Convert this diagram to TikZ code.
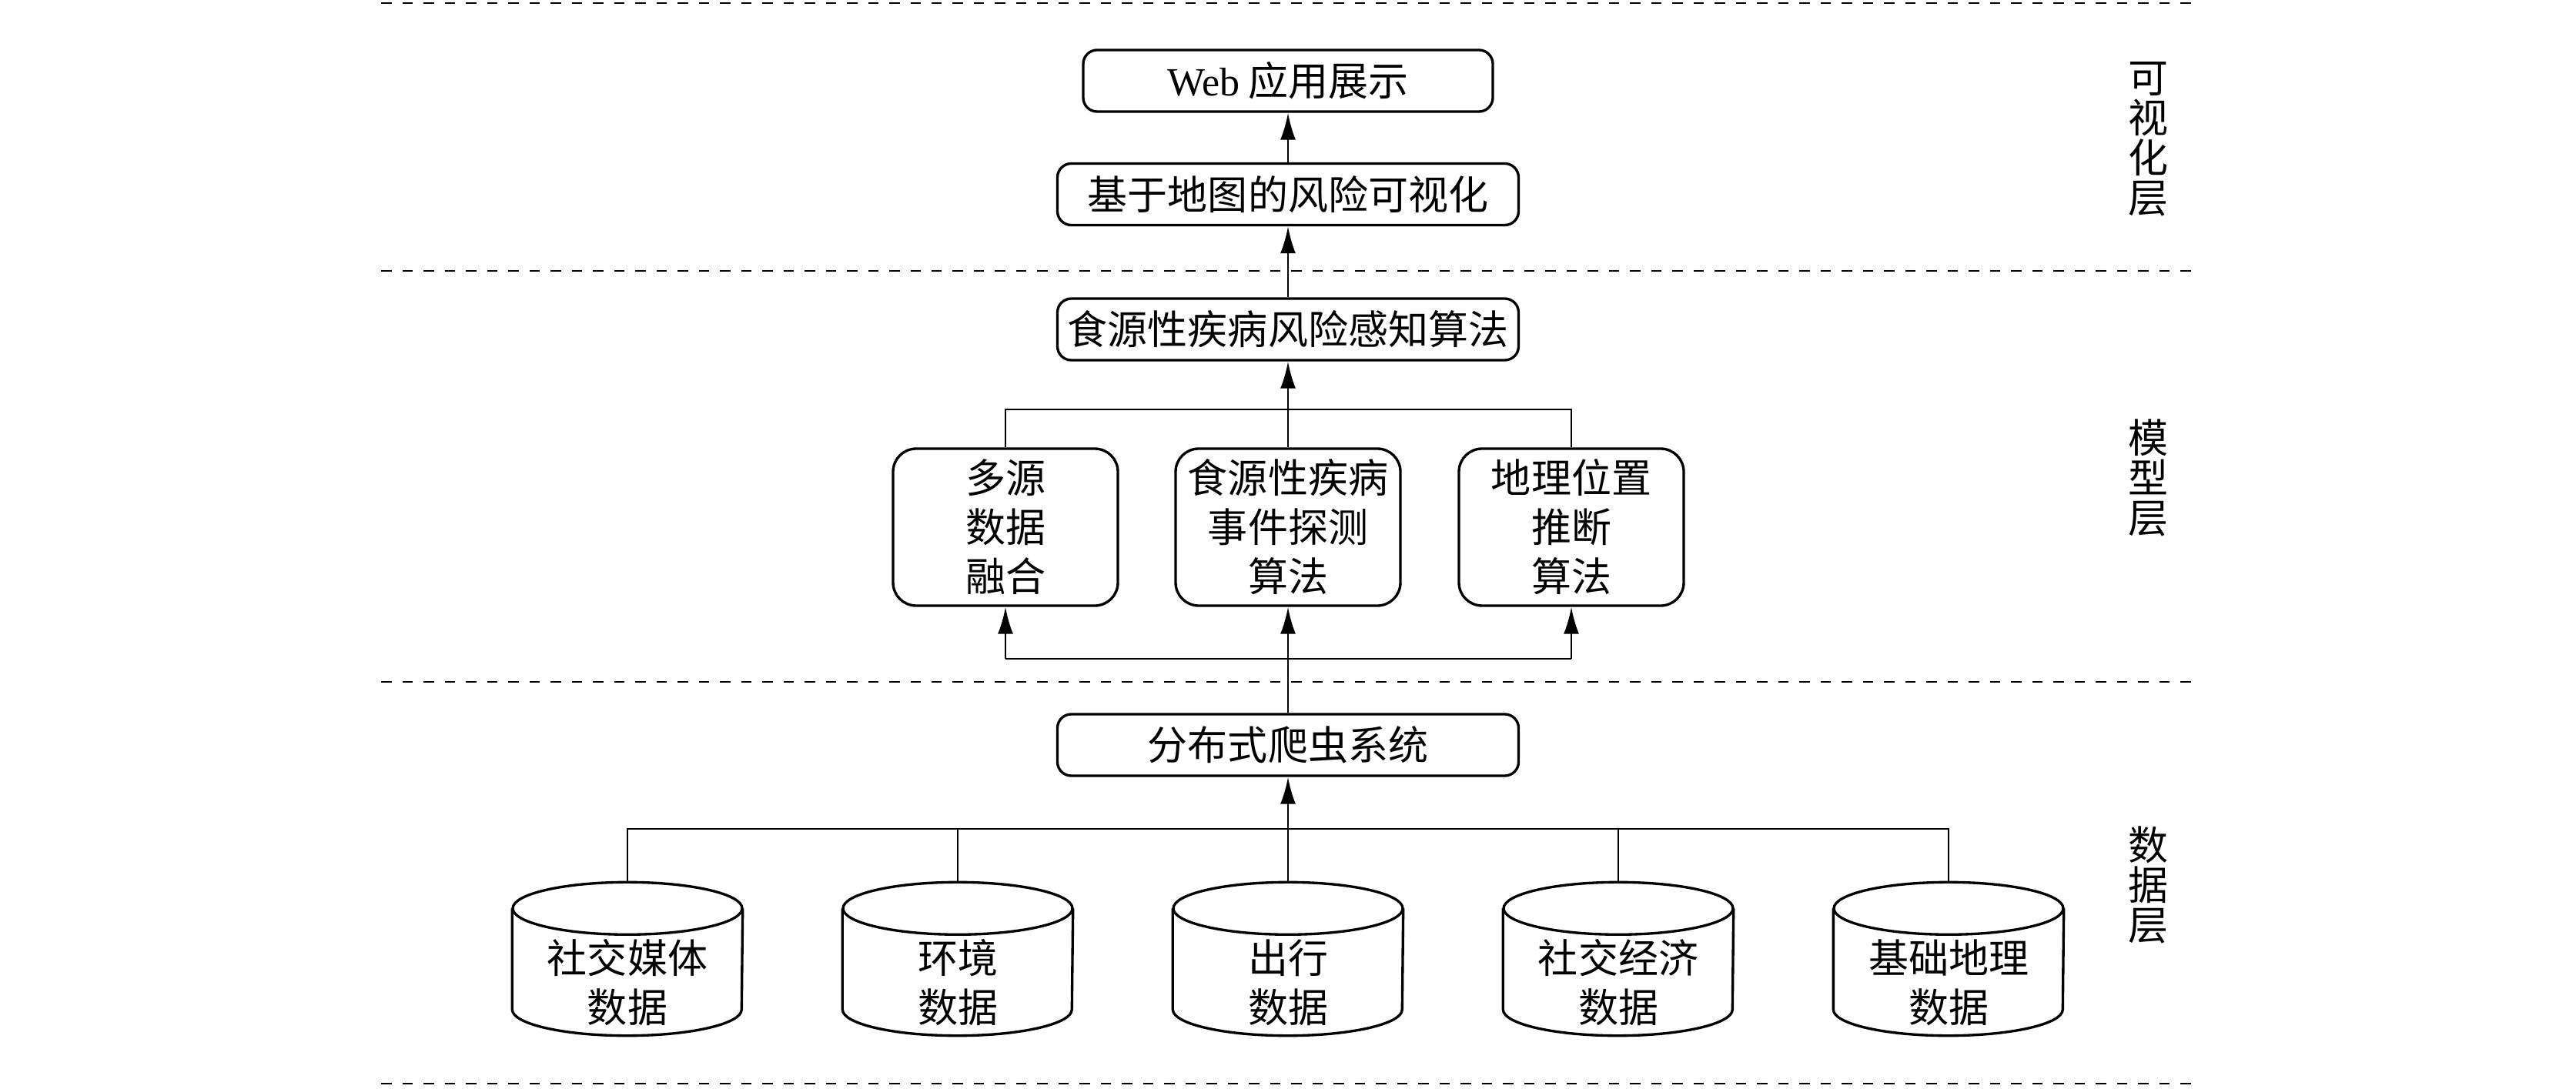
\documentclass[tikz,border=0pt]{standalone}
\usepackage{fontspec}
\setmainfont{Liberation Serif}
\newfontfamily\cjk{Noto Sans CJK SC}
\usetikzlibrary{arrows.meta}
\tikzset{
  box/.style={draw,rounded corners=0.18cm,line width=0.95pt,minimum width=5.99cm,minimum height=0.8cm,inner sep=0pt},
  modelbox/.style={draw,rounded corners=0.3cm,line width=0.95pt,minimum width=2.92cm,minimum height=2.04cm,align=center,inner sep=0pt},
  datadb/.style={minimum width=2.98cm,minimum height=1.98cm,inner sep=0pt},
  dbline/.style={line width=0.95pt},
  datatext/.style={align=center},
  layer/.style={align=center,font=\cjk\fontsize{14.8}{14.8}\selectfont},
  link/.style={line width=0.75pt},
  uparrow/.style={link,-{Latex[length=3.5mm,width=2mm]}},
  layerline/.style={line width=0.75pt,dash pattern=on 0.135cm off 0.14cm}
}
\begin{document}
\begin{tikzpicture}[font=\cjk\fontsize{14.8}{18.2}\selectfont]
\useasboundingbox (0,0) rectangle (33.46,14.14);
% layer separators
\draw[layerline] (4.95,14.10) -- (28.50,14.10);
\draw[layerline] (4.95,10.62) -- (28.50,10.62);
\draw[layerline] (4.95,5.28) -- (28.50,5.28);
\draw[layerline] (4.95,0.06) -- (28.50,0.06);
% layer names
\node[layer] (lvis) at (27.90,12.33) {可\\视\\化\\层};
\node[layer] (lmodel) at (27.90,7.93) {模\\型\\层};
\node[layer] (ldata) at (27.90,2.64) {数\\据\\层};
% visualisation layer
\node[box,minimum width=5.32cm] (web) at (16.73,13.09) {{\rmfamily Web} 应用展示};
\node[box] (vis) at (16.73,11.615) {基于地图的风险可视化};
% model layer
\node[box] (risk) at (16.73,9.86) {食源性疾病风险感知算法};
\node[modelbox] (fuse) at (13.06,7.29) {多源\\数据\\融合};
\node[modelbox] (event) at (16.73,7.29) {食源性疾病\\事件探测\\算法};
\node[modelbox] (geo) at (20.41,7.29) {地理位置\\推断\\算法};
% data layer
\node[box] (crawl) at (16.73,4.46) {分布式爬虫系统};
\foreach \x/\nm/\txt in {8.15/social/{社交媒体\\数据},12.44/env/{环境\\数据},16.73/trip/{出行\\数据},21.02/econ/{社交经济\\数据},25.31/base/{基础地理\\数据}}{
  \node[datadb] (\nm) at (\x,1.68) {};
  \draw[dbline] ([yshift=-0.34cm]\nm.north west) -- ([yshift=0.34cm]\nm.south west)
    arc[start angle=180,end angle=360,x radius=1.49cm,y radius=0.34cm]
    -- ([yshift=-0.34cm]\nm.north east);
  \draw[dbline] ([yshift=-0.34cm]\nm.north) ellipse[x radius=1.49cm,y radius=0.34cm];
  \node[datatext] (\nm-t) at ([yshift=-0.31cm]\nm.center) {\txt};
}
\coordinate (topbus) at (16.73,8.82);
\coordinate (midbus) at (16.73,5.58);
\coordinate (databus) at (16.73,3.37);
% connectors
\draw[uparrow] (vis) -- (web);
\draw[uparrow] (risk) -- (vis);
\draw[uparrow] (event) -- (risk);
\draw[link] (fuse.north) |- (topbus) -| (geo.north);
\draw[uparrow] (crawl) -- (event);
\draw[link] (midbus -| fuse) -- (midbus -| geo);
\draw[uparrow] (midbus -| fuse) -- (fuse.south);
\draw[uparrow] (midbus -| geo) -- (geo.south);
\draw[uparrow] (trip) -- (crawl);
\draw[link] (social.north) |- (databus) -| (base.north);
\draw[link] (env.north) -- (env.north |- databus);
\draw[link] (econ.north) -- (econ.north |- databus);
\end{tikzpicture}
\end{document}
